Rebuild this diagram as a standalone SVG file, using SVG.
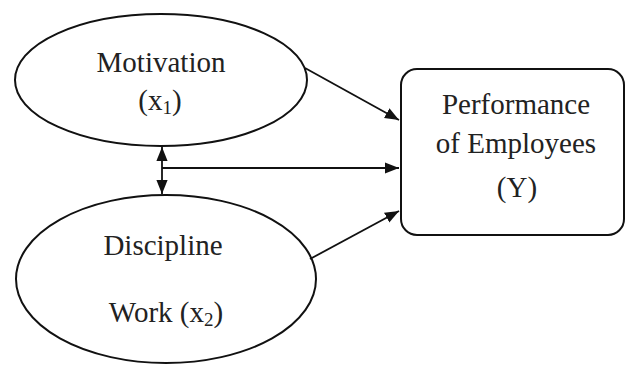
<svg xmlns="http://www.w3.org/2000/svg" width="626" height="365" viewBox="0 0 626 365">
<style>
.shape{fill:#fff;stroke:#111;stroke-width:2}
.t{font-family:"Liberation Serif","Times New Roman",serif;font-size:29px;fill:#222;text-anchor:middle}
.c{stroke:#111;stroke-width:1.8;fill:none}
</style>
<defs>
<marker id="ah" viewBox="0 0 10 10" refX="10" refY="5" markerWidth="8" markerHeight="8" markerUnits="userSpaceOnUse" orient="auto-start-reverse">
<path d="M0,0 L10,5 L0,10 z" fill="#111"/>
</marker>
<marker id="ah2" viewBox="0 0 10 10" refX="10" refY="5" markerWidth="14" markerHeight="14" markerUnits="userSpaceOnUse" orient="auto-start-reverse">
<path d="M0,1 L10,5 L0,9 z" fill="#111"/>
</marker>
</defs>
<rect width="626" height="365" fill="#fff"/>
<g id="motivation">
<ellipse class="shape" cx="161" cy="80" rx="146" ry="66"/>
<text class="t" x="161" y="72">Motivation</text>
<text class="t" x="160" y="110">(x<tspan font-size="19" dy="4">1</tspan><tspan dy="-4">)</tspan></text>
</g>
<g id="discipline">
<ellipse class="shape" cx="166" cy="279" rx="150" ry="84"/>
<text class="t" x="163" y="255">Discipline</text>
<text class="t" x="166" y="322">Work (x<tspan font-size="19" dy="4">2</tspan><tspan dy="-4">)</tspan></text>
</g>
<g id="performance">
<rect class="shape" x="401" y="69" width="223" height="166" rx="16"/>
<text class="t" x="516" y="114">Performance</text>
<text class="t" x="516" y="153">of Employees</text>
<text class="t" x="517" y="197">(Y)</text>
</g>
<g id="connectors">
<line class="c" x1="305" y1="68" x2="399" y2="120" marker-end="url(#ah2)"/>
<line class="c" x1="162" y1="168" x2="399" y2="168" marker-end="url(#ah2)"/>
<line class="c" x1="162" y1="147" x2="162" y2="194" marker-start="url(#ah2)" marker-end="url(#ah2)"/>
<line class="c" x1="310" y1="259" x2="399" y2="211" marker-end="url(#ah2)"/>
</g>
</svg>
